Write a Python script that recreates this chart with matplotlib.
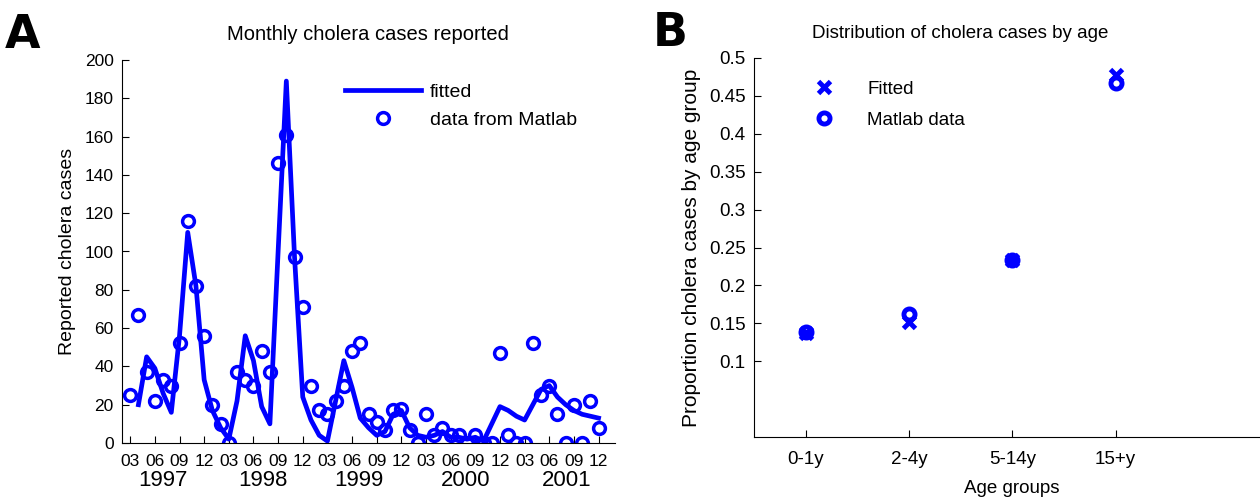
import matplotlib
matplotlib.use("Agg")
import matplotlib.pyplot as plt
import matplotlib.transforms as mtransforms
import numpy as np

plt.rcParams['font.family'] = ['Liberation Sans', 'DejaVu Sans']

# ---------------- Panel A data (monthly, month index: Jan 1997 = 1) ----------------
data_months = list(range(3, 61))          # Mar 1997 .. Dec 2001
data_cases = [25, 67, 37, 22, 33, 30, 52, 116, 82, 56,
              20, 10, 0, 37, 33, 30, 48, 37, 146, 161, 97, 71,
              30, 17, 15, 22, 30, 48, 52, 15, 11, 7, 17, 18,
              7, 0, 15, 4, 8, 4, 4, 0, 4, 0, 0, 47,
              4, 0, 0, 52, 25, 30, 15, 0, 20, 0, 22, 8]
fit_months = list(range(4, 61))           # Apr 1997 .. Dec 2001
fit_cases = [20, 45, 39, 26, 16, 56, 110, 82, 33,
             17, 8, 2, 22, 56, 43, 19, 10, 100, 189, 97, 24,
             12, 4, 1, 22, 43, 29, 13, 8, 4, 6, 15, 17,
             8, 4, 3, 4, 6, 3, 3, 2, 3, 1, 10, 19,
             17, 14, 12, 20, 28, 30, 24, 20, 17, 15, 14, 13]
tick_months = list(range(3, 61, 3))
tick_labels = ['03', '06', '09', '12'] * 5
years = ['1997', '1998', '1999', '2000', '2001']
year_pos = [7.0, 19.2, 30.8, 43.8, 56.1]

# ---------------- Panel B data ----------------
age_groups = ['0-1y', '2-4y', '5-14y', '15+y']
fitted_prop = [0.137, 0.152, 0.234, 0.477]
data_prop = [0.139, 0.162, 0.233, 0.467]

blue = '#0000FF'

fig = plt.figure(figsize=(12.6, 4.97), dpi=100)

# ---------------- Panel A ----------------
axA = fig.add_axes([122/1260, 54/497, (615-122)/1260, (443-60)/497])
axA.plot(fit_months, fit_cases, '-', color=blue, lw=3.4, label='fitted')
axA.plot(data_months, data_cases, 'o', color=blue, mfc='none', ms=8.5, mew=2.5,
         label='data from Matlab')
axA.set_xlim(2, 62)
axA.set_ylim(0, 200)
axA.set_yticks(range(0, 201, 20))
axA.set_xticks(tick_months)
axA.set_xticklabels(tick_labels)
for s in ['top', 'right']:
    axA.spines[s].set_visible(False)
axA.tick_params(direction='in', length=5, labelsize=12.5, pad=6)
axA.tick_params(axis='x', pad=8)
axA.set_ylabel('Reported cholera cases', fontsize=14, labelpad=6)
fig.text(368/1260, 1 - 35/497, 'Monthly cholera cases reported', fontsize=14.5,
         ha='center', va='center')
trans = mtransforms.blended_transform_factory(axA.transData, axA.transAxes)
for yp, yl in zip(year_pos, years):
    axA.text(yp, -0.097, yl, transform=trans, ha='center', va='center', fontsize=16)
axA.legend(loc='upper left', bbox_to_anchor=(0.425, 0.975), frameon=False, fontsize=14,
           handlelength=3.9, handletextpad=0.45, borderaxespad=0.3, labelspacing=0.55)
fig.text(5/1260, 1 - 36/497, 'A', fontsize=33, fontweight='bold', va='center', ha='left',
         family='DejaVu Sans')

# ---------------- Panel B ----------------
xB = np.arange(1, len(age_groups) + 1)
axB = fig.add_axes([754/1260, 60/497, 516.5/1260, (437-58)/497])
axB.plot(xB, fitted_prop, 'x', color=blue, ms=9, mew=3.5, ls='none', label='Fitted')
axB.plot(xB, data_prop, 'o', color=blue, mfc='none', ms=8, mew=3.5, ls='none',
         label='Matlab data')
axB.set_xlim(0.5, 5.5)
axB.set_ylim(0, 0.5)
axB.set_yticks([0.1, 0.15, 0.2, 0.25, 0.3, 0.35, 0.4, 0.45, 0.5])
axB.set_yticklabels(['0.1', '0.15', '0.2', '0.25', '0.3', '0.35', '0.4', '0.45', '0.5'])
axB.set_xticks(xB)
axB.set_xticklabels(age_groups)
for s in ['top', 'right']:
    axB.spines[s].set_visible(False)
axB.tick_params(direction='in', length=5, labelsize=13.5, pad=6)
axB.tick_params(axis='x', pad=10)
axB.set_ylabel('Proportion cholera cases by age group', fontsize=15, labelpad=6)
axB.set_xlabel('Age groups', fontsize=13.5, labelpad=9)
fig.text(960/1260, 1 - 33/497, 'Distribution of cholera cases by age', fontsize=13.5,
         ha='center', va='center')
axB.legend(loc='upper left', bbox_to_anchor=(0.067, 0.985), frameon=False, fontsize=13.5,
           handlelength=2.0, handletextpad=1.3, labelspacing=0.75)
fig.text(653/1260, 1 - 33/497, 'B', fontsize=33, fontweight='bold', va='center', ha='left',
         family='DejaVu Sans')

fig.savefig('out.png', dpi=100)
